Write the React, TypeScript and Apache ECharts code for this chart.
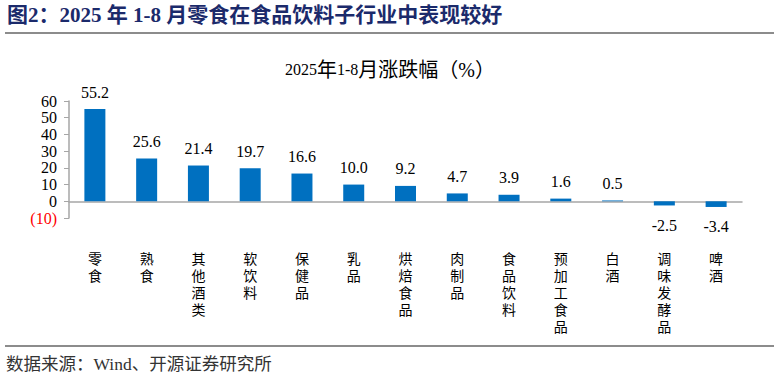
import React, { useEffect, useRef } from "react";
import * as echarts from "echarts";

const categories = ["零食", "熟食", "其他酒类", "软饮料", "保健品", "乳品", "烘焙食品", "肉制品", "食品饮料", "预加工食品", "白酒", "调味发酵品", "啤酒"];
const values = [55.2, 25.6, 21.4, 19.7, 16.6, 10.0, 9.2, 4.7, 3.9, 1.6, 0.5, -2.5, -3.4];
const yTicks = [-10, 0, 10, 20, 30, 40, 50, 60];
const figureTitle = "图2：2025 年 1-8 月零食在食品饮料子行业中表现较好";
const chartTitleParts = [
  ["d", "2025"],
  ["c", "年"],
  ["d", "1-8"],
  ["c", "月涨跌幅（%）"],
];
const sourceText = "数据来源：Wind、开源证券研究所";

const SERIF = "'Times New Roman', 'Liberation Serif', 'Noto Sans CJK SC', serif";

export default function App() {
  const ref = useRef<HTMLDivElement>(null);
  useEffect(() => {
    if (!ref.current) return;
    const chart = echarts.init(ref.current, null, { renderer: "svg" });
    chart.setOption({
      animation: false,
      backgroundColor: "#ffffff",
      title: {
        text: chartTitleParts.map(([k, t]) => "{" + k + "|" + t + "}").join(""),
        left: 385,
        textAlign: "center",
        top: 55,
        textStyle: {
          fontFamily: SERIF,
          fontSize: 16,
          fontWeight: "normal",
          color: "#000",
          rich: {
            d: { fontFamily: SERIF, fontSize: 16, color: "#000" },
            c: { fontFamily: SERIF, fontSize: 20, color: "#000" },
          },
        },
      },
      graphic: [
        {
          type: "text",
          left: 7,
          top: 4,
          style: { text: figureTitle, fontFamily: SERIF, fontSize: 21, fontWeight: "bold", fill: "#1b2a6b" },
        },
        {
          type: "rect",
          shape: { x: 5, y: 32, width: 769, height: 2 },
          style: { fill: "#8c8c8c" },
        },
        {
          type: "rect",
          shape: { x: 5, y: 345, width: 769, height: 2 },
          style: { fill: "#8c8c8c" },
        },
        {
          type: "text",
          left: 6,
          top: 355,
          style: { text: sourceText, fontFamily: SERIF, fontSize: 17.5, fill: "#333" },
        },
      ],
      grid: { left: 69, right: 32, top: 101, bottom: 158, containLabel: false },
      xAxis: {
        type: "category",
        data: categories,
        axisLine: { onZero: true, lineStyle: { color: "#a6a6a6", width: 1.5 } },
        axisTick: { show: false },
        axisLabel: {
          margin: 33,
          interval: 0,
          verticalAlign: "top",
          fontFamily: SERIF,
          fontSize: 14,
          lineHeight: 17,
          color: "#000",
          formatter: (v: string) => v.split("").join("\n"),
        },
      },
      yAxis: {
        type: "value",
        min: yTicks[0],
        max: yTicks[yTicks.length - 1],
        interval: 10,
        splitLine: { show: false },
        axisLine: { show: true, lineStyle: { color: "#a6a6a6", width: 1.5 } },
        axisTick: { show: true, length: 5, lineStyle: { color: "#a6a6a6" } },
        axisLabel: {
          margin: 12,
          fontFamily: SERIF,
          fontSize: 16,
          lineHeight: 15,
          showMinLabel: true,
          showMaxLabel: true,
          hideOverlap: false,
          color: (v: any) => (Number(v) < 0 ? "#ff0000" : "#000"),
          formatter: (v: number) => (v < 0 ? "(" + Math.abs(v) + ")" : String(v)),
        },
      },
      series: [
        {
          type: "bar",
          data: values.map((v) => ({
            value: v,
            label: {
              show: true,
              position: v < 0 ? "bottom" : "top",
              distance: v < 0 ? 12 : 9,
              formatter: (p: any) => Number(p.value).toFixed(1),
              fontFamily: SERIF,
              fontSize: 16,
              color: "#000",
            },
          })),
          barWidth: 21,
          itemStyle: { color: "#0070c0" },
        },
      ],
    });
    return () => chart.dispose();
  }, []);
  return <div ref={ref} style={{ position: "fixed", left: 0, top: 0, width: 774, height: 376 }} />;
}
